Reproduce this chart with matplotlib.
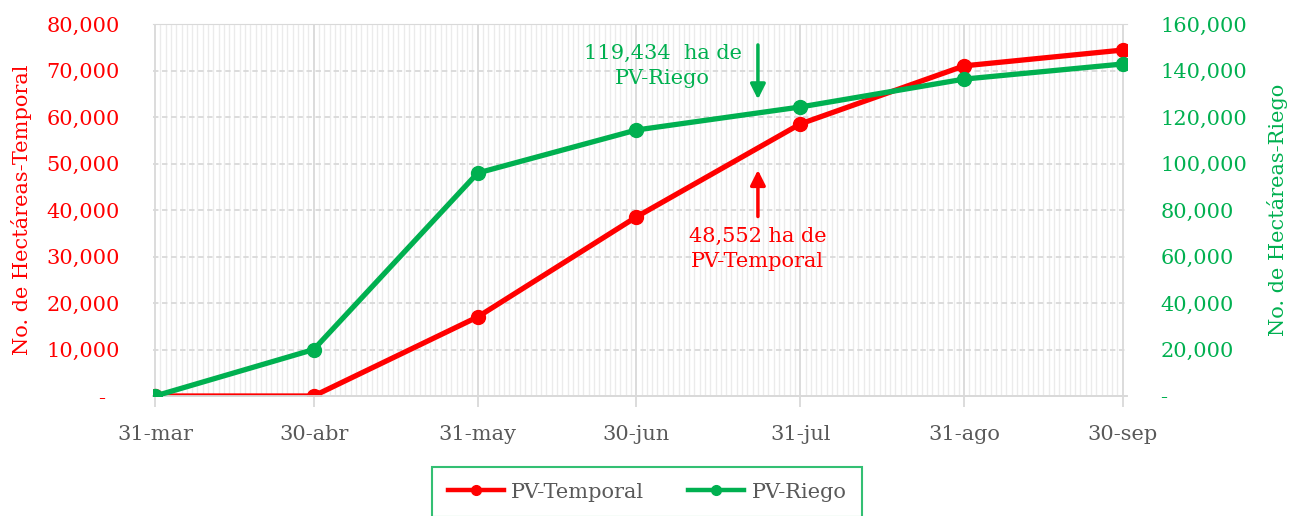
import matplotlib
matplotlib.use("Agg")
import matplotlib.pyplot as plt
import matplotlib.dates as mdates
import matplotlib.ticker as mticker

# ---- data ----
dates = ["2023-03-31", "2023-04-30", "2023-05-31", "2023-06-30", "2023-07-31", "2023-08-31", "2023-09-30"]
date_labels = ["31-mar", "30-abr", "31-may", "30-jun", "31-jul", "31-ago", "30-sep"]
temporal = [0, 0, 17000, 38500, 58500, 71000, 74400]
riego = [0, 20000, 95900, 114400, 124300, 136300, 142800]
left_ticks = [0, 10000, 20000, 30000, 40000, 50000, 60000, 70000, 80000]
right_ticks = [0, 20000, 40000, 60000, 80000, 100000, 120000, 140000, 160000]
annot_date = "2023-07-23"
riego_text = "119,434  ha de\nPV-Riego"
temporal_text = "48,552 ha de\nPV-Temporal"

RED = "#FF0000"
GREEN = "#00B050"
GREY = "#595959"
FS = 15
plt.rcParams['font.family'] = ['DejaVu Serif', 'DejaVu Sans']

x = [mdates.datestr2num(d) for d in dates]
xa = mdates.datestr2num(annot_date)

fig = plt.figure(figsize=(12.9, 5.16), dpi=100)
ax = fig.add_axes([153/1290, 1-396/516, (1127-153)/1290, (396-24)/516])
ax2 = ax.twinx()

ax.set_xlim(x[0] - 0.4, x[-1] + 0.8)
ax.set_ylim(0, 80000)
ax2.set_ylim(0, 160000)

# grids
ax.xaxis.set_major_locator(mticker.FixedLocator(x))
ax.xaxis.set_major_formatter(mticker.FixedFormatter(date_labels))
ax.xaxis.set_minor_locator(mdates.DayLocator())
ax.grid(which="minor", axis="x", color="#EBEBEB", linewidth=1.0)
ax.grid(which="major", axis="x", color="#D9D9D9", linewidth=1.3)
ax.set_yticks(left_ticks)
ax.set_yticklabels(["-  " if v == 0 else f"{v:,}" for v in left_ticks])
ax.grid(which="major", axis="y", color="#D9D9D9", linewidth=1.3, linestyle=(0, (3, 2)))
ax.set_axisbelow(True)
ax2.set_yticks(right_ticks)
ax2.set_yticklabels(["-" if v == 0 else f"{v:,}" for v in right_ticks])

for a in (ax, ax2):
    for s in ("left", "right", "top"):
        a.spines[s].set_visible(False)
    a.spines["bottom"].set_color("#D9D9D9")
    a.spines["bottom"].set_linewidth(1.3)
ax.spines["top"].set_visible(True)
ax.spines["top"].set_color("#D9D9D9")

ax.tick_params(axis="x", which="major", length=8, color="#D9D9D9", width=1.3,
               labelsize=FS, labelcolor=GREY, pad=13)
ax.tick_params(axis="x", which="minor", length=0)
ax.tick_params(axis="y", length=0, labelsize=FS, labelcolor=RED, pad=24)
ax2.tick_params(axis="y", length=0, labelsize=FS, labelcolor=GREEN, pad=24)

ax.set_ylabel("No. de Hectáreas-Temporal", color=RED, fontsize=FS, labelpad=10)
ax2.set_ylabel("No. de Hectáreas-Riego", color=GREEN, fontsize=FS, labelpad=14)

l1, = ax.plot(x, temporal, color=RED, lw=3.8, marker="o", ms=10, label="PV-Temporal", zorder=5)
l2, = ax2.plot(x, riego, color=GREEN, lw=3.8, marker="o", ms=10, label="PV-Riego", zorder=5)

# annotations
ax2.annotate("", xy=(xa, 2 * 63200), xytext=(xa, 2 * 76100),
             arrowprops=dict(arrowstyle="-|>,head_width=0.45,head_length=0.9", color=GREEN, lw=2.5))
ax2.text(xa - 18.0, 2 * 71000, riego_text, color=GREEN, fontsize=FS, ha="center", va="center",
         linespacing=1.4)
ax2.annotate("", xy=(xa, 2 * 49200), xytext=(xa, 2 * 38000),
             arrowprops=dict(arrowstyle="-|>,head_width=0.45,head_length=0.9", color=RED, lw=2.5))
ax2.text(xa, 2 * 31600, temporal_text, color=RED, fontsize=FS, ha="center", va="center",
         linespacing=1.4)

leg = fig.legend(handles=[l1, l2], loc="upper center", bbox_to_anchor=(647/1290, 1-467/516),
                 ncol=2, fontsize=FS, frameon=True, fancybox=False, handlelength=2.7,
                 columnspacing=2.1, borderpad=0.75, handletextpad=0.35, borderaxespad=0)
leg.get_frame().set_edgecolor(GREEN)
leg.get_frame().set_linewidth(1.5)
for h in leg.legend_handles:
    h.set_markersize(7)
    h.set_linewidth(3.2)
for t in leg.get_texts():
    t.set_color(GREY)

fig.savefig("out.png", dpi=100)
